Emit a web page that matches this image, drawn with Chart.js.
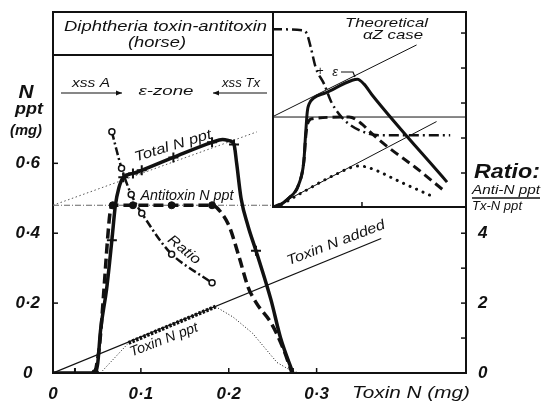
<!DOCTYPE html>
<html>
<head>
<meta charset="utf-8">
<script src="https://cdn.jsdelivr.net/npm/chart.js@4.4.1/dist/chart.umd.min.js"></script>
<style>
body { margin: 0; background: #fff; }
#wrap { position: relative; width: 543px; height: 406px; }
#main { position: absolute; left: 0; top: 0; }
#inset { position: absolute; left: 272px; top: 11px; }
</style>
</head>
<body>
<div id="wrap">
<canvas id="main" width="543" height="406"></canvas>
<canvas id="inset" width="195" height="197"></canvas>
</div>
<script>
// ---- main plot: toxin N added (mg) against N precipitated (mg) ----
const xTicks = [0, 0.1, 0.2, 0.3]
const yTicks = [0, 0.2, 0.4, 0.6]
const ratioTicks = [0, 1, 2, 3, 4]
const ratioLabels = [0, 2, 4]

// Total N ppt (curve + measured points)
const totalX = [0, 0.025, 0.048, 0.051, 0.054, 0.061, 0.067, 0.071, 0.075, 0.08, 0.091, 0.101, 0.137, 0.181, 0.193, 0.2, 0.206, 0.209, 0.214, 0.222, 0.231, 0.248, 0.259, 0.273]
const totalY = [0, 0, 0, 0.03, 0.12, 0.24, 0.38, 0.48, 0.53, 0.56, 0.571, 0.58, 0.617, 0.66, 0.668, 0.665, 0.654, 0.6, 0.5, 0.42, 0.35, 0.21, 0.1, 0]
const totalPtX = [0.025, 0.048, 0.067, 0.08, 0.091, 0.101, 0.137, 0.181, 0.206, 0.231, 0.273]
const totalPtY = [0, 0, 0.38, 0.56, 0.571, 0.58, 0.617, 0.66, 0.654, 0.35, 0]

// Antitoxin N ppt
const antiX = [0.048, 0.053, 0.058, 0.062, 0.065, 0.068, 0.091, 0.135, 0.181, 0.192, 0.201, 0.212, 0.222, 0.2315, 0.2485, 0.262, 0.272]
const antiY = [0, 0.08, 0.24, 0.38, 0.46, 0.48, 0.48, 0.48, 0.48, 0.457, 0.417, 0.33, 0.246, 0.2, 0.142, 0.07, 0]
const antiPtX = [0.048, 0.068, 0.091, 0.135, 0.181]
const antiPtY = [0, 0.48, 0.48, 0.48, 0.48]

// Ratio Anti-N ppt / Tx-N ppt (right axis)
const ratioX = [0.067, 0.078, 0.089, 0.101, 0.135, 0.181]
const ratioY = [6.9, 5.86, 5.11, 4.57, 3.4, 2.58]

// Toxin N ppt (measured part is the 2nd segment)
const toxinX = [0.054, 0.086, 0.185, 0.205, 0.227, 0.243, 0.255, 0.27, 0.28]
const toxinY = [0, 0.086, 0.19, 0.16, 0.114, 0.066, 0.03, 0.008, 0]

// reference lines
const addedX = [0, 0.3735]
const addedY = [0, 0.385]
const extX = [0, 0.232]
const extY = [0.48, 0.69]
const levelX = [0, 0.25]
const levelY = [0.48, 0.48]

// ---- inset: theoretical case (arbitrary units) ----
const thTicksY = [1, 2, 3, 4, 5]
const thTicksX = [2.57]
const thRatioX = [0, 0.87, 1.0, 1.11, 1.25, 1.49, 1.68, 1.91, 2.2, 2.68, 3.06, 5.09]
const thRatioY = [5.11, 5.08, 4.97, 4.58, 4.01, 3.54, 3.06, 2.69, 2.4, 2.15, 2.08, 2.08]
const thTotalX = [0, 0.06, 0.49, 0.77, 0.91, 0.96, 1.01, 1.06, 1.2, 1.53, 2.29, 2.44, 2.63, 2.86, 5.0]
const thTotalY = [0, 0.01, 0.29, 0.69, 1.34, 2.11, 2.77, 2.97, 3.15, 3.29, 3.65, 3.68, 3.54, 3.23, 0.74]
const thAntiX = [0, 0.49, 0.77, 0.91, 0.96, 1.01, 1.15, 2.2, 2.58, 2.77, 3.34, 4.11, 4.87]
const thAntiY = [0, 0.29, 0.69, 1.34, 2.0, 2.39, 2.55, 2.6, 2.39, 2.2, 1.72, 1.15, 0.53]
const thToxinX = [0.1, 0.86, 1.82, 2.49, 2.77, 3.72, 4.68]
const thToxinY = [0, 0.44, 0.96, 1.2, 1.15, 0.72, 0.29]
const thUpperX = [0, 4.13]
const thUpperY = [2.6, 4.66]
const thLevelX = [0, 5.6]
const thLevelY = [2.6, 2.6]
const thLowerX = [0, 4.7]
const thLowerY = [0, 2.47]

const ink = '#111'
const FONT = '"Liberation Sans", Arial, sans-serif'

function pts(xs, ys) { return xs.map((x, i) => ({ x: x, y: ys[i] })) }

function label(ctx, s, x, y, size, w, rot, weight) {
    ctx.save()
    ctx.translate(x, y)
    if (rot) ctx.rotate(rot * Math.PI / 180)
    ctx.font = `italic ${weight || 'normal'} ${size}px ${FONT}`
    ctx.textAlign = 'center'
    ctx.textBaseline = 'middle'
    ctx.fillStyle = ink
    if (w) {
        const m = ctx.measureText(s).width
        ctx.scale(w / m, 1)
    }
    ctx.fillText(s, 0, 0)
    ctx.restore()
}

function arrow(ctx, x1, x2, y) {
    ctx.beginPath()
    ctx.moveTo(x1, y)
    ctx.lineTo(x2, y)
    ctx.stroke()
    const d = x2 > x1 ? 1 : -1
    ctx.beginPath()
    ctx.moveTo(x2, y)
    ctx.lineTo(x2 - d * 6, y - 2.5)
    ctx.lineTo(x2 - d * 6, y + 2.5)
    ctx.closePath()
    ctx.fill()
}

const tickFont = { family: FONT, size: 17, style: 'italic', weight: 'bold' }
const fmt = (v) => v === 0 ? '0' : '0·' + Math.round(v * 10)

// no extra room for half tick labels, the layout is fixed
const noPad = (s) => { s.paddingTop = 0; s.paddingBottom = 0; s.paddingLeft = 0; s.paddingRight = 0 }

const mainDecor = {
    id: 'mainDecor',
    afterDraw(chart) {
        const { ctx, chartArea: a, scales } = chart
        ctx.save()
        ctx.strokeStyle = ink
        ctx.fillStyle = ink
        ctx.lineWidth = 2
        // top border
        ctx.beginPath()
        ctx.moveTo(a.left - 1, a.top)
        ctx.lineTo(a.right + 1, a.top)
        ctx.stroke()

        // inward ticks
        ctx.lineWidth = 1.5
        xTicks.filter(v => v > 0).forEach(v => {
            const px = scales.x.getPixelForValue(v)
            ctx.beginPath(); ctx.moveTo(px, a.bottom); ctx.lineTo(px, a.bottom - 5); ctx.stroke()
        })
        yTicks.filter(v => v > 0).forEach(v => {
            const py = scales.y.getPixelForValue(v)
            ctx.beginPath(); ctx.moveTo(a.left, py); ctx.lineTo(a.left + 5, py); ctx.stroke()
        })
        ratioTicks.filter(v => v > 0).forEach(v => {
            const py = scales.y2.getPixelForValue(v)
            ctx.beginPath(); ctx.moveTo(a.right, py); ctx.lineTo(a.right - 5, py); ctx.stroke()
        })

        // title box
        ctx.lineWidth = 2
        ctx.fillStyle = '#fff'
        ctx.fillRect(a.left, a.top, 273 - a.left, 43)
        ctx.strokeRect(a.left, a.top, 273 - a.left, 43)
        ctx.fillStyle = ink
        label(ctx, 'Diphtheria toxin-antitoxin', 165.5, 27, 15, 203)
        label(ctx, '(horse)', 157, 43, 15, 58)

        // zone labels
        label(ctx, 'xss A', 91, 84, 12, 38)
        label(ctx, 'ε-zone', 166, 92, 12, 55)
        label(ctx, 'xss Tx', 241, 84, 12, 38)
        ctx.lineWidth = 1.2
        arrow(ctx, 61, 122, 93)
        arrow(ctx, 267, 213, 93)

        // curve labels
        label(ctx, 'Total N ppt', 173, 146, 14, 80, -17)
        label(ctx, 'Antitoxin N ppt', 187, 196, 14, 93)
        label(ctx, 'Ratio', 184, 250, 14, 38, 39)
        label(ctx, 'Toxin N ppt', 164, 340, 14, 72, -21)
        label(ctx, 'Toxin N added', 336, 243, 14, 104, -21)

        // axis titles
        label(ctx, 'N', 26, 93, 19, 15, 0, 'bold')
        label(ctx, 'ppt', 29, 109, 17, 28, 0, 'bold')
        label(ctx, '(mg)', 26, 131, 15, 32, 0, 'bold')
        label(ctx, 'Toxin N (mg)', 411, 393, 17, 118)
        label(ctx, 'Ratio:', 507, 172, 20, 66, 0, 'bold')
        label(ctx, 'Anti-N ppt', 506, 190, 13, 68)
        label(ctx, 'Tx-N ppt', 497, 206, 13, 50)
        ctx.lineWidth = 1.5
        ctx.beginPath(); ctx.moveTo(472, 198); ctx.lineTo(540, 198); ctx.stroke()
        ctx.restore()
    }
}

new Chart(document.getElementById('main'), {
    type: 'line',
    data: {
        datasets: [
            {
                data: pts(ratioX, ratioY), yAxisID: 'y2',
                borderColor: ink, borderWidth: 2.5, borderDash: [8, 3, 2, 3], tension: 0.3,
                pointStyle: 'circle', pointRadius: 3, pointBackgroundColor: '#fff',
                pointBorderColor: ink, pointBorderWidth: 1.5
            },
            {
                data: pts(totalPtX, totalPtY), showLine: false,
                pointStyle: 'cross', pointRadius: 5, pointBorderWidth: 2, pointBorderColor: ink
            },
            {
                data: pts(totalX, totalY), borderColor: ink, borderWidth: 3.5,
                cubicInterpolationMode: 'monotone', pointRadius: 0
            },
            {
                data: pts(antiPtX, antiPtY), showLine: false,
                pointStyle: 'circle', pointRadius: 3.5, pointBackgroundColor: ink, pointBorderColor: ink
            },
            {
                data: pts(antiX, antiY), borderColor: ink, borderWidth: 3.5, borderDash: [10, 5],
                cubicInterpolationMode: 'monotone', pointRadius: 0
            },
            {
                data: pts(toxinX, toxinY), borderColor: ink, pointRadius: 0,
                segment: {
                    borderWidth: c => c.p0DataIndex === 1 ? 4 : 1,
                    borderDash: c => c.p0DataIndex === 1 ? [2.5, 1.5] : [1, 2]
                }
            },
            { data: pts(addedX, addedY), borderColor: ink, borderWidth: 1.2, pointRadius: 0 },
            { data: pts(extX, extY), borderColor: '#555', borderWidth: 1, borderDash: [1.5, 2.5], pointRadius: 0 },
            { data: pts(levelX, levelY), borderColor: '#666', borderWidth: 1, borderDash: [6, 2, 1, 2], pointRadius: 0 }
        ]
    },
    options: {
        responsive: false,
        animation: false,
        devicePixelRatio: 1,
        layout: { padding: { top: 12, left: 0, right: 0, bottom: 0 } },
        plugins: { legend: { display: false }, tooltip: { enabled: false } },
        scales: {
            x: {
                type: 'linear', min: 0, max: 0.47,
                afterFit: s => { s.height = 33; noPad(s) },
                afterBuildTicks: s => { s.ticks = xTicks.map(v => ({ value: v })) },
                ticks: { font: tickFont, color: ink, padding: 11, callback: v => fmt(v), maxRotation: 0 },
                grid: { drawOnChartArea: false, drawTicks: false },
                border: { color: ink, width: 2 }
            },
            y: {
                type: 'linear', min: 0, max: 1.033,
                afterFit: s => { s.width = 53; noPad(s) },
                afterBuildTicks: s => { s.ticks = yTicks.map(v => ({ value: v })) },
                ticks: { font: tickFont, color: ink, padding: 13, crossAlign: 'center', callback: v => fmt(v) },
                grid: { drawOnChartArea: false, drawTicks: false },
                border: { color: ink, width: 2 }
            },
            y2: {
                type: 'linear', position: 'right', min: 0, max: 10.33,
                afterFit: s => { s.width = 77; noPad(s) },
                afterBuildTicks: s => { s.ticks = ratioTicks.map(v => ({ value: v })) },
                ticks: { font: tickFont, color: ink, padding: 12, callback: v => ratioLabels.includes(v) ? String(v) : '' },
                grid: { drawOnChartArea: false, drawTicks: false },
                border: { color: ink, width: 2 }
            }
        }
    },
    plugins: [mainDecor]
})

// ---- inset chart ----
const insetDecor = {
    id: 'insetDecor',
    beforeDraw(chart) {
        const { ctx, width, height } = chart
        ctx.save()
        ctx.fillStyle = '#fff'
        ctx.fillRect(0, 0, width, height)
        ctx.restore()
    },
    afterDraw(chart) {
        const { ctx, width, height, scales } = chart
        ctx.save()
        ctx.strokeStyle = ink
        ctx.fillStyle = ink
        ctx.lineWidth = 2
        ctx.strokeRect(1, 1, width - 2, height - 2)
        ctx.lineWidth = 1.5
        thTicksY.forEach(v => {
            const py = scales.y.getPixelForValue(v)
            ctx.beginPath(); ctx.moveTo(width - 1, py); ctx.lineTo(width - 6, py); ctx.stroke()
        })
        thTicksX.forEach(v => {
            const px = scales.x.getPixelForValue(v)
            ctx.beginPath(); ctx.moveTo(px, height - 1); ctx.lineTo(px, height - 6); ctx.stroke()
        })
        label(ctx, 'Theoretical', 114.5, 12, 13, 83)
        label(ctx, 'αZ case', 121, 24, 13, 60)
        label(ctx, '+', 48, 61, 12)
        label(ctx, 'ε', 63, 61, 13)
        ctx.lineWidth = 1.2
        ctx.beginPath(); ctx.moveTo(69, 61); ctx.lineTo(81, 61); ctx.lineTo(83, 66); ctx.stroke()
        ctx.restore()
    }
}

new Chart(document.getElementById('inset'), {
    type: 'line',
    data: {
        datasets: [
            {
                data: pts(thTotalX, thTotalY), borderColor: ink, borderWidth: 3,
                cubicInterpolationMode: 'monotone', pointRadius: 0
            },
            {
                data: pts(thAntiX, thAntiY), borderColor: ink, borderWidth: 3, borderDash: [9, 5],
                cubicInterpolationMode: 'monotone', pointRadius: 0
            },
            {
                data: pts(thRatioX, thRatioY), borderColor: ink, borderWidth: 2.5, borderDash: [10, 4, 2, 4],
                cubicInterpolationMode: 'monotone', pointRadius: 0
            },
            {
                data: pts(thToxinX, thToxinY), borderColor: ink, borderWidth: 3, borderDash: [0.1, 7],
                borderCapStyle: 'round', cubicInterpolationMode: 'monotone', pointRadius: 0
            },
            { data: pts(thUpperX, thUpperY), borderColor: ink, borderWidth: 1, pointRadius: 0 },
            { data: pts(thLevelX, thLevelY), borderColor: ink, borderWidth: 1, pointRadius: 0 },
            { data: pts(thLowerX, thLowerY), borderColor: ink, borderWidth: 1, pointRadius: 0 }
        ]
    },
    options: {
        responsive: false,
        animation: false,
        devicePixelRatio: 1,
        layout: { padding: 0 },
        plugins: { legend: { display: false }, tooltip: { enabled: false } },
        scales: {
            x: { type: 'linear', min: 0, max: 5.57, display: false },
            y: { type: 'linear', min: 0, max: 5.63, display: false }
        }
    },
    plugins: [insetDecor]
})
</script>
</body>
</html>
